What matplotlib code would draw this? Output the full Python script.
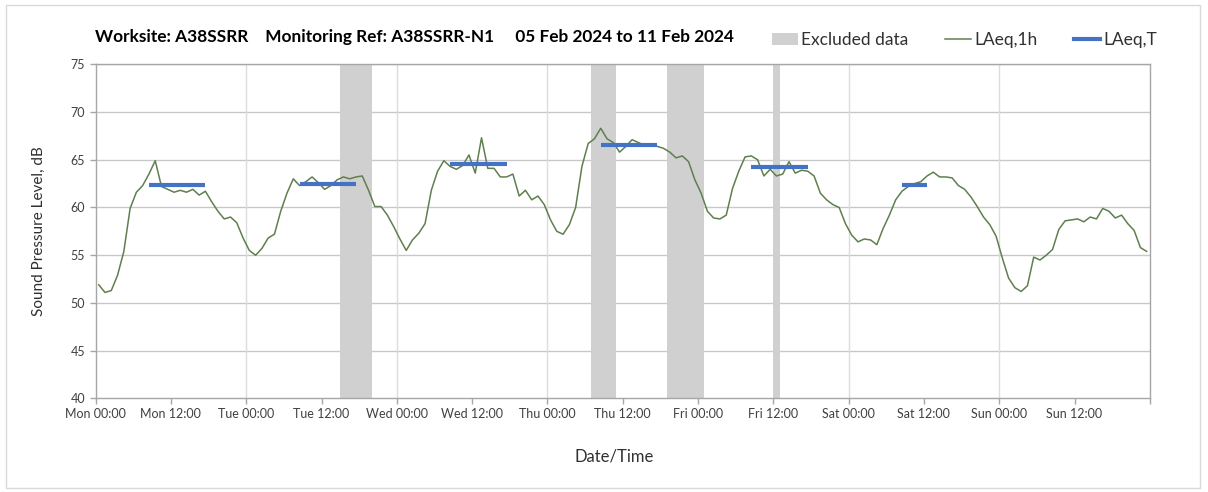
import numpy as np
import matplotlib
matplotlib.use("Agg")
import matplotlib.pyplot as plt
from matplotlib.patches import Patch, Rectangle
from matplotlib.lines import Line2D

plt.rcParams['font.family'] = ['Lato', 'DejaVu Sans']

# ---- data ----
laeq_1h = [
    51.9, 51.1, 51.3, 52.9, 55.4, 59.9, 61.6, 62.3, 63.5, 64.9, 62.2, 61.9,
    61.6, 61.8, 61.6, 61.9, 61.3, 61.7, 60.6, 59.6, 58.8, 59.0, 58.4, 56.8,
    55.5, 55.0, 55.7, 56.8, 57.2, 59.6, 61.5, 63.0, 62.3, 62.7, 63.2, 62.6,
    61.9, 62.3, 62.9, 63.2, 63.0, 63.2, 63.3, 61.8, 60.1, 60.1, 59.2, 58.0,
    56.7, 55.5, 56.6, 57.3, 58.3, 61.8, 63.8, 64.9, 64.3, 64.0, 64.4, 65.5,
    63.6, 67.3, 64.1, 64.1, 63.2, 63.2, 63.5, 61.2, 61.8, 60.8, 61.2, 60.3,
    58.7, 57.5, 57.2, 58.2, 60.0, 64.3, 66.7, 67.2, 68.3, 67.2, 66.8, 65.8,
    66.4, 67.1, 66.8, 66.5, 66.5, 66.4, 66.2, 65.8, 65.2, 65.4, 64.8, 62.9,
    61.5, 59.6, 58.9, 58.8, 59.2, 62.0, 63.8, 65.3, 65.4, 65.0, 63.3, 64.0,
    63.3, 63.5, 64.8, 63.6, 63.9, 63.8, 63.3, 61.5, 60.8, 60.3, 60.0, 58.3,
    57.1, 56.4, 56.7, 56.6, 56.1, 57.8, 59.2, 60.8, 61.7, 62.2, 62.5, 62.7,
    63.3, 63.7, 63.2, 63.2, 63.1, 62.3, 61.9, 61.1, 60.1, 59.0, 58.2, 57.0,
    54.7, 52.6, 51.6, 51.2, 51.8, 54.8, 54.5, 55.0, 55.6, 57.7, 58.6, 58.7,
    58.8, 58.5, 59.0, 58.8, 59.9, 59.6, 58.9, 59.2, 58.3, 57.6, 55.8, 55.4,
]
hour_start = list(range(168))  # hour index of each 1h period (point at mid-hour)

laeq_t_start = [8.5, 32.5, 56.5, 80.5, 104.5, 128.5]
laeq_t_end = [17.5, 41.5, 65.5, 89.5, 113.5, 132.5]
laeq_t_value = [62.4, 62.5, 64.6, 66.5, 64.2, 62.4]

excluded_start = [39, 79, 91, 108]
excluded_end = [44, 83, 97, 109]

tick_hours = list(range(0, 169, 12))
tick_labels = ['Mon 00:00', 'Mon 12:00', 'Tue 00:00', 'Tue 12:00', 'Wed 00:00',
               'Wed 12:00', 'Thu 00:00', 'Thu 12:00', 'Fri 00:00', 'Fri 12:00',
               'Sat 00:00', 'Sat 12:00', 'Sun 00:00', 'Sun 12:00', '']

title_text = "Worksite: A38SSRR    Monitoring Ref: A38SSRR-N1     05 Feb 2024 to 11 Feb 2024"

# ---- figure ----
W, H = 1208, 492
fig = plt.figure(figsize=(W / 100, H / 100), dpi=100)
fig.patches.append(Rectangle((6 / W, 4 / H), 1194 / W, 483 / H, transform=fig.transFigure,
                             fill=False, edgecolor='#d9d9d9', linewidth=1))

ax = fig.add_axes([95.6 / W, 1 - 398.4 / H, (1149.8 - 95.6) / W, (398.4 - 64.3) / H])

grey_fill = '#d0d0d0'
green = '#5f7f4f'
blue = '#4472C4'

for s, e in zip(excluded_start, excluded_end):
    ax.axvspan(s, e, color=grey_fill, lw=0, zorder=1)

x_mid = np.array(hour_start) + 0.5
ax.plot(x_mid, laeq_1h, color=green, lw=1.1, zorder=3)
ax.hlines(laeq_t_value, laeq_t_start, laeq_t_end, color=blue, lw=3, zorder=4)

ax.set_xlim(0, 168)
ax.set_ylim(40, 75)
ax.set_yticks(np.arange(40, 76, 5))
ax.set_xticks(tick_hours)
ax.set_xticklabels(tick_labels)

for y in range(45, 76, 5):
    ax.axhline(y, color='#c8c8c8', lw=1, zorder=0.5)
for x in range(24, 168, 24):
    ax.axvline(x, color='#dcdcdc', lw=1, zorder=0.5)

for sp in ax.spines.values():
    sp.set_color('#a6a6a6')
    sp.set_linewidth(1)

ax.tick_params(axis='both', colors='#a6a6a6', labelcolor='#404040', labelsize=9,
               length=4, width=1, direction='out')
ax.tick_params(axis='x', pad=3)

ax.set_ylabel('Sound Pressure Level, dB', fontsize=11, color='#303030', labelpad=18)
fig.text(614 / W, 1 - 456 / H, 'Date/Time', fontsize=12, color='#303030',
         ha='center', va='center')

fig.text(95 / W, 1 - 37 / H, title_text, fontsize=12.4, fontweight='bold',
         color='black', ha='left', va='center')

handles = [Patch(facecolor=grey_fill, edgecolor='none', label='Excluded data'),
           Line2D([], [], color=green, lw=1.1, label='LAeq,1h'),
           Line2D([], [], color=blue, lw=3, label='LAeq,T')]
fig.legend(handles=handles, loc='center right', bbox_to_anchor=(1173 / W, 1 - 40 / H),
           ncol=3, frameon=False, fontsize=12.5, handlelength=1.5, handletextpad=0.2,
           columnspacing=2.1, labelcolor='#303030')

fig.savefig('out.png', dpi=100)
